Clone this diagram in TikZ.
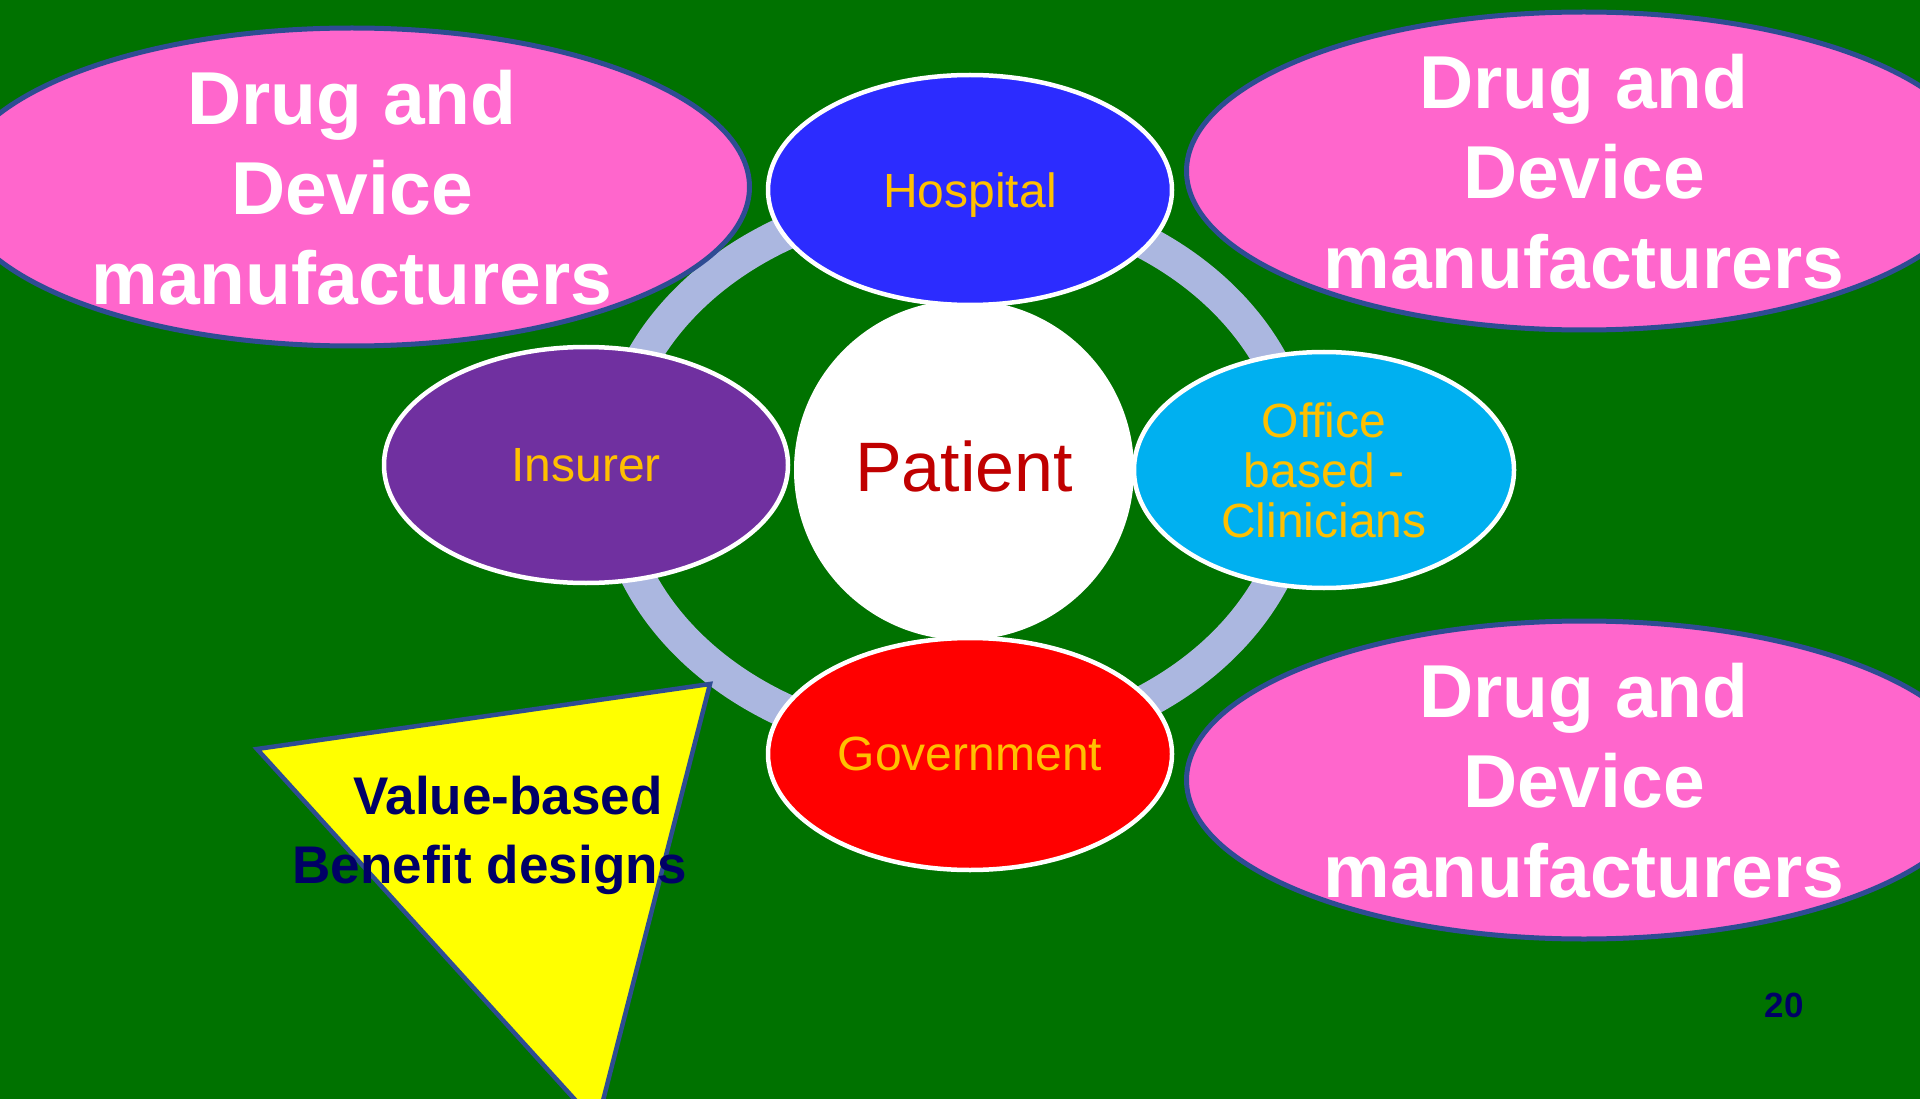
\documentclass[tikz,border=0pt]{standalone}
\usepackage{fontspec}
\setmainfont{Liberation Sans}
\usetikzlibrary{shapes.geometric}
\definecolor{bggreen}{HTML}{007200}
\definecolor{pinkfill}{HTML}{FF66CC}
\definecolor{edgeblue}{HTML}{2E4C93}
\definecolor{hospblue}{HTML}{2C2CFF}
\definecolor{insurpurple}{HTML}{7030A0}
\definecolor{officecyan}{HTML}{00B0F0}
\definecolor{govred}{HTML}{FF0000}
\definecolor{labelgold}{HTML}{FFC000}
\definecolor{patientred}{HTML}{C00000}
\definecolor{ringblue}{HTML}{ABB7E0}
\definecolor{navytext}{HTML}{000066}
\definecolor{triyellow}{HTML}{FFFF00}
\begin{document}
\begin{tikzpicture}[x=1pt,y=-1pt,
  satellite/.style={ellipse, draw=white, line width=4.5pt, inner sep=0pt,
    text=labelgold, font=\fontsize{48}{50}\selectfont, align=center, text depth=0pt},
  maker/.style={ellipse, draw=edgeblue, line width=5pt, fill=pinkfill, inner sep=0pt,
    minimum width=795pt, minimum height=318pt},
  makertext/.style={text=white, font=\bfseries\fontsize{75}{90}\selectfont,
    align=center, inner sep=0pt},
  ringstyle/.style={draw=ringblue, line width=34pt},
  tri/.style={draw=edgeblue, line width=4.5pt, fill=triyellow, line join=miter},
  tritext/.style={text=navytext, font=\bfseries\fontsize{53}{68}\selectfont, inner sep=0pt, anchor=base},
  pagenum/.style={text=navytext, font=\bfseries\fontsize{35}{40}\selectfont, inner sep=0pt, anchor=base}
]
\useasboundingbox (0,0) rectangle (1920,1099);
\clip (0,0) rectangle (1920,1099);
\fill[bggreen] (0,0) rectangle (1920,1099);

% ring
\coordinate (ringc) at (956,472);
\draw[ringstyle] (ringc) ellipse [x radius=344pt, y radius=275pt];

% patient
\node[circle, fill=white, minimum size=340pt, inner sep=0pt] (patient) at (964,470) {};
\node[text=patientred, font=\fontsize{70}{74}\selectfont, inner sep=0pt] (patientlbl) at (964,466) {Patient};

% satellites
\node[satellite, fill=hospblue, minimum width=404pt, minimum height=230pt] (hospital) at (970,190) {Hospital};
\node[satellite, fill=insurpurple, minimum width=404pt, minimum height=236pt] (insurer) at (586,465) {Insurer};
\node[satellite, fill=officecyan, minimum width=380pt, minimum height=236pt] (office) at (1324,470) {Office\\based -\\Clinicians};
\node[satellite, fill=govred, minimum width=404pt, minimum height=232pt] (government) at (970,754) {Government};

% manufacturers
\node[maker] (makerTL) at (352,187) {};
\node[makertext] (makerTLt) at (352,188) {Drug and\\Device\\manufacturers};
\node[maker] (makerTR) at (1584,171) {};
\node[makertext] (makerTRt) at (1584,172) {Drug and\\Device\\manufacturers};
\node[maker] (makerBR) at (1584,780) {};
\node[makertext] (makerBRt) at (1584,781) {Drug and\\Device\\manufacturers};

% triangle
\coordinate (triA) at (257,749);
\coordinate (triB) at (710,684);
\coordinate (triC) at (597,1124);
\draw[tri] (triA) -- (triB) -- (triC) -- cycle;
\node[tritext] (value1) at (508,814) {Value-based};
\node[tritext] (value2) at (490,883) {Benefit designs};

% page number
\node[pagenum] (pnum) at (1784,1017) {20};
\end{tikzpicture}
\end{document}
